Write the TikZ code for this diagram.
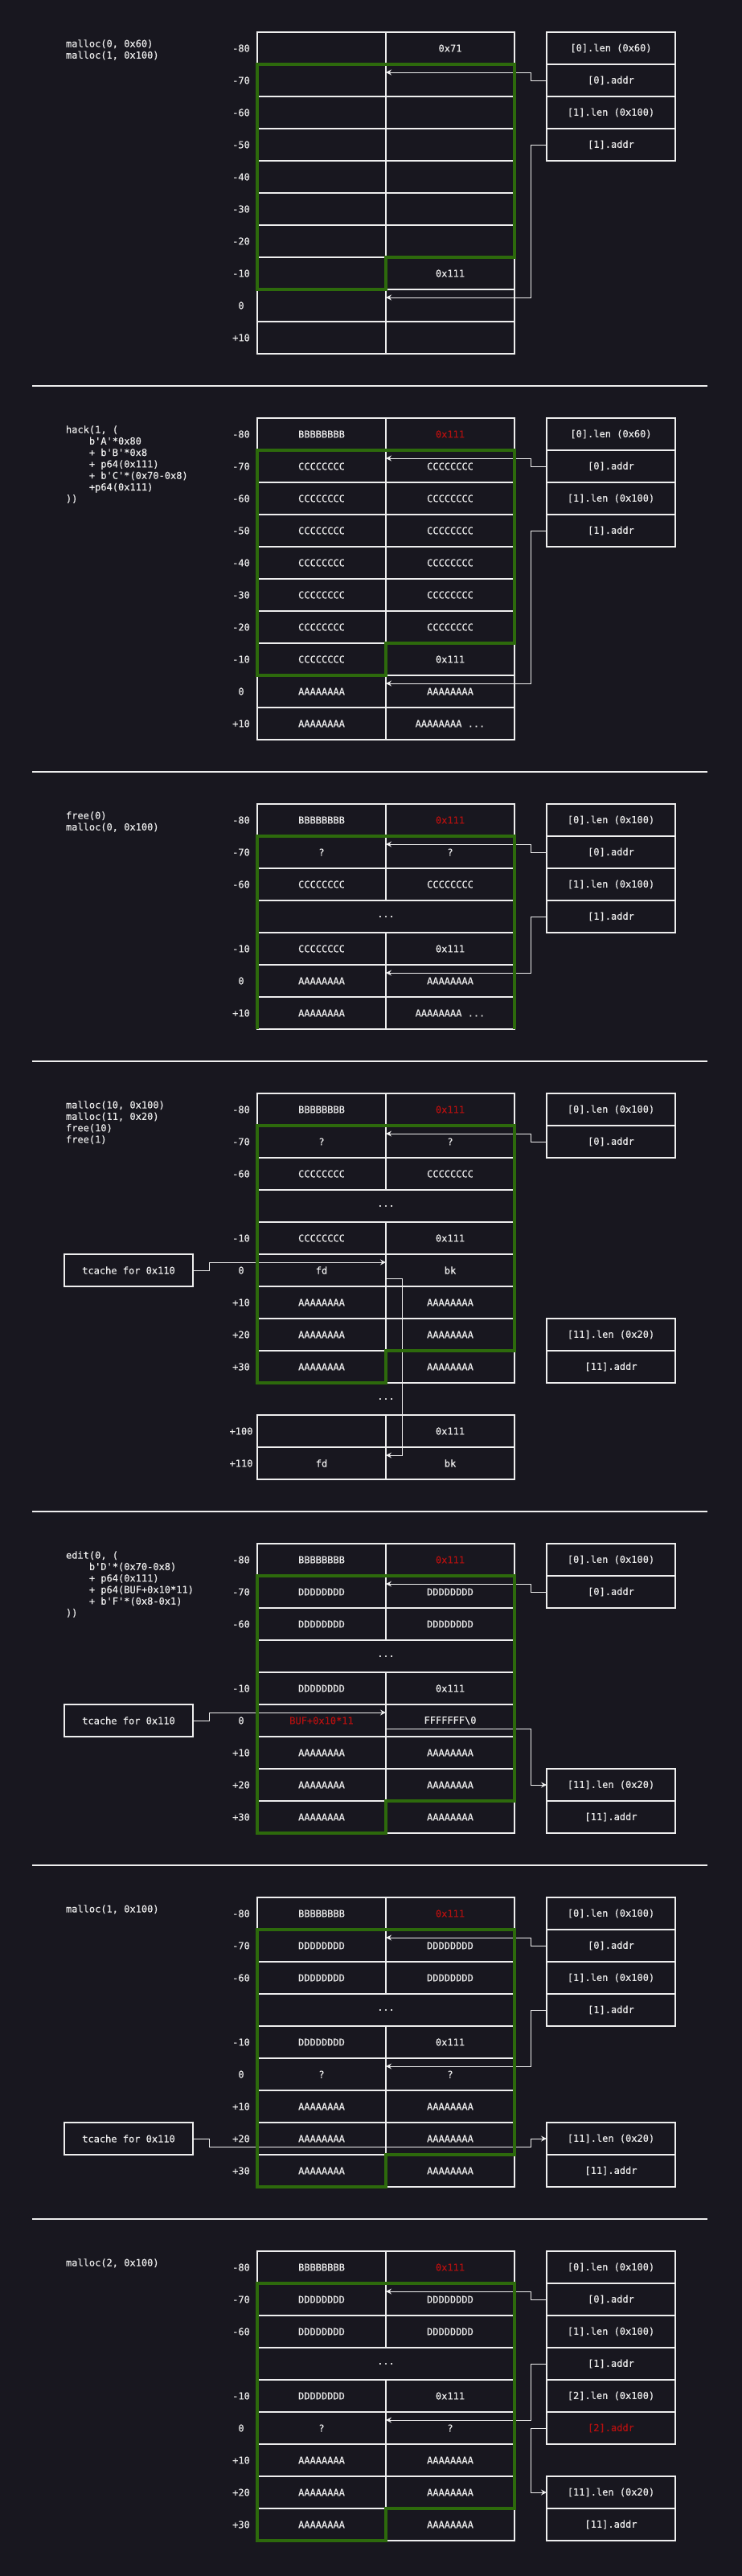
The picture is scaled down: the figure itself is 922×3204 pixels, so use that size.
\documentclass[tikz,border=0pt]{standalone}
\usepackage{fontspec}
\usepackage{tikz}
\usetikzlibrary{arrows.meta}
\newfontfamily\code{DejaVu Sans Mono}[FakeBold=0.4]
\definecolor{bg}{HTML}{18171F}
\definecolor{fg}{HTML}{ECECEC}
\definecolor{ink}{HTML}{EEEEEE}
\definecolor{grn}{HTML}{2D6A0C}
\definecolor{hot}{HTML}{B31010}

\begin{document}
\begin{tikzpicture}[x=1pt,y=1pt]
            \tikzstyle{every node}+=[inner sep=0pt, outer sep=0pt, text=fg, font=\code\fontsize{12}{14.3}\selectfont]
            \tikzstyle{cell}=[draw=ink, line width=1.1pt, minimum width=160, minimum height=40]
            \tikzstyle{wide}=[cell, minimum width=320]
            \tikzstyle{ptr}=[draw=ink, line width=0.9pt, -{Stealth[length=7pt,width=7pt,inset=2.5pt]}]
            \tikzstyle{chunk}=[draw=grn, line width=3.5pt]
            \tikzstyle{rule}=[draw=ink, line width=1.1pt]
            \tikzstyle{snip}=[anchor=north west, align=left]
            \useasboundingbox (0,0) rectangle (922,-3204);
            \fill [bg] (-4,4) rectangle (926,-3208);
            % malloc(0) / malloc(1)
            \node [snip] (p1code) at (82,-48.5) {\strut malloc(0, 0x60)\\malloc(1, 0x100)};
            \node (p1o0) at (300,-60) {-80};
            \node [cell] (p1l0) at (400,-60) {};
            \node [cell] (p1r0) at (560,-60) {0x71};
            \node (p1o1) at (300,-100) {-70};
            \node [cell] (p1l1) at (400,-100) {};
            \node [cell] (p1r1) at (560,-100) {};
            \node (p1o2) at (300,-140) {-60};
            \node [cell] (p1l2) at (400,-140) {};
            \node [cell] (p1r2) at (560,-140) {};
            \node (p1o3) at (300,-180) {-50};
            \node [cell] (p1l3) at (400,-180) {};
            \node [cell] (p1r3) at (560,-180) {};
            \node (p1o4) at (300,-220) {-40};
            \node [cell] (p1l4) at (400,-220) {};
            \node [cell] (p1r4) at (560,-220) {};
            \node (p1o5) at (300,-260) {-30};
            \node [cell] (p1l5) at (400,-260) {};
            \node [cell] (p1r5) at (560,-260) {};
            \node (p1o6) at (300,-300) {-20};
            \node [cell] (p1l6) at (400,-300) {};
            \node [cell] (p1r6) at (560,-300) {};
            \node (p1o7) at (300,-340) {-10};
            \node [cell] (p1l7) at (400,-340) {};
            \node [cell] (p1r7) at (560,-340) {0x111};
            \node (p1o8) at (300,-380) {0};
            \node [cell] (p1l8) at (400,-380) {};
            \node [cell] (p1r8) at (560,-380) {};
            \node (p1o9) at (300,-420) {+10};
            \node [cell] (p1l9) at (400,-420) {};
            \node [cell] (p1r9) at (560,-420) {};
            \node [cell] (p1s0) at (760,-60) {[0].len (0x60)};
            \node [cell] (p1s1) at (760,-100) {[0].addr};
            \node [cell] (p1s2) at (760,-140) {[1].len (0x100)};
            \node [cell] (p1s3) at (760,-180) {[1].addr};
            \draw [ptr] (p1s1.west) -- ++(-20,0) |- ([yshift=-10]p1l1.north east);
            \draw [ptr] (p1s3.west) -- ++(-20,0) |- ([yshift=-10]p1l8.north east);
            \draw [chunk] (p1l1.north west) -- (p1r1.north east) -- (p1r6.south east) -- (p1r7.north west) -- (p1l7.south east) -- (p1l7.south west) -- cycle;
            \draw [rule] (40,-480) -- (880,-480);
            % hack(1)
            \node [snip] (p2code) at (82,-528.5) {\strut hack(1, (\\\phantom{xxxx}b\textquotesingle A\textquotesingle*0x80\\\phantom{xxxx}+ b\textquotesingle B\textquotesingle*0x8\\\phantom{xxxx}+ p64(0x111)\\\phantom{xxxx}+ b\textquotesingle C\textquotesingle*(0x70-0x8)\\\phantom{xxxx}+p64(0x111)\\))};
            \node (p2o0) at (300,-540) {-80};
            \node [cell] (p2l0) at (400,-540) {BBBBBBBB};
            \node [cell, text=hot] (p2r0) at (560,-540) {0x111};
            \node (p2o1) at (300,-580) {-70};
            \node [cell] (p2l1) at (400,-580) {CCCCCCCC};
            \node [cell] (p2r1) at (560,-580) {CCCCCCCC};
            \node (p2o2) at (300,-620) {-60};
            \node [cell] (p2l2) at (400,-620) {CCCCCCCC};
            \node [cell] (p2r2) at (560,-620) {CCCCCCCC};
            \node (p2o3) at (300,-660) {-50};
            \node [cell] (p2l3) at (400,-660) {CCCCCCCC};
            \node [cell] (p2r3) at (560,-660) {CCCCCCCC};
            \node (p2o4) at (300,-700) {-40};
            \node [cell] (p2l4) at (400,-700) {CCCCCCCC};
            \node [cell] (p2r4) at (560,-700) {CCCCCCCC};
            \node (p2o5) at (300,-740) {-30};
            \node [cell] (p2l5) at (400,-740) {CCCCCCCC};
            \node [cell] (p2r5) at (560,-740) {CCCCCCCC};
            \node (p2o6) at (300,-780) {-20};
            \node [cell] (p2l6) at (400,-780) {CCCCCCCC};
            \node [cell] (p2r6) at (560,-780) {CCCCCCCC};
            \node (p2o7) at (300,-820) {-10};
            \node [cell] (p2l7) at (400,-820) {CCCCCCCC};
            \node [cell] (p2r7) at (560,-820) {0x111};
            \node (p2o8) at (300,-860) {0};
            \node [cell] (p2l8) at (400,-860) {AAAAAAAA};
            \node [cell] (p2r8) at (560,-860) {AAAAAAAA};
            \node (p2o9) at (300,-900) {+10};
            \node [cell] (p2l9) at (400,-900) {AAAAAAAA};
            \node [cell] (p2r9) at (560,-900) {AAAAAAAA ...};
            \node [cell] (p2s0) at (760,-540) {[0].len (0x60)};
            \node [cell] (p2s1) at (760,-580) {[0].addr};
            \node [cell] (p2s2) at (760,-620) {[1].len (0x100)};
            \node [cell] (p2s3) at (760,-660) {[1].addr};
            \draw [ptr] (p2s1.west) -- ++(-20,0) |- ([yshift=-10]p2l1.north east);
            \draw [ptr] (p2s3.west) -- ++(-20,0) |- ([yshift=-10]p2l8.north east);
            \draw [chunk] (p2l1.north west) -- (p2r1.north east) -- (p2r6.south east) -- (p2r7.north west) -- (p2l7.south east) -- (p2l7.south west) -- cycle;
            \draw [rule] (40,-960) -- (880,-960);
            % free(0) / malloc(0)
            \node [snip] (p3code) at (82,-1008.5) {\strut free(0)\\malloc(0, 0x100)};
            \node (p3o0) at (300,-1020) {-80};
            \node [cell] (p3l0) at (400,-1020) {BBBBBBBB};
            \node [cell, text=hot] (p3r0) at (560,-1020) {0x111};
            \node (p3o1) at (300,-1060) {-70};
            \node [cell] (p3l1) at (400,-1060) {?};
            \node [cell] (p3r1) at (560,-1060) {?};
            \node (p3o2) at (300,-1100) {-60};
            \node [cell] (p3l2) at (400,-1100) {CCCCCCCC};
            \node [cell] (p3r2) at (560,-1100) {CCCCCCCC};
            \node [wide] (p3m) at (480,-1140) {...};
            \node (p3o4) at (300,-1180) {-10};
            \node [cell] (p3l4) at (400,-1180) {CCCCCCCC};
            \node [cell] (p3r4) at (560,-1180) {0x111};
            \node (p3o5) at (300,-1220) {0};
            \node [cell] (p3l5) at (400,-1220) {AAAAAAAA};
            \node [cell] (p3r5) at (560,-1220) {AAAAAAAA};
            \node (p3o6) at (300,-1260) {+10};
            \node [cell] (p3l6) at (400,-1260) {AAAAAAAA};
            \node [cell] (p3r6) at (560,-1260) {AAAAAAAA ...};
            \node [cell] (p3s0) at (760,-1020) {[0].len (0x100)};
            \node [cell] (p3s1) at (760,-1060) {[0].addr};
            \node [cell] (p3s2) at (760,-1100) {[1].len (0x100)};
            \node [cell] (p3s3) at (760,-1140) {[1].addr};
            \draw [ptr] (p3s1.west) -- ++(-20,0) |- ([yshift=-10]p3l1.north east);
            \draw [ptr] (p3s3.west) -- ++(-20,0) |- ([yshift=-10]p3l5.north east);
            \draw [chunk] (p3l6.south west) -- (p3l1.north west) -- (p3r1.north east) -- (p3r6.south east);
            \draw [rule] (40,-1320) -- (880,-1320);
            % malloc(10) / malloc(11) / free(10) / free(1)
            \node [snip] (p4code) at (82,-1368.5) {\strut malloc(10, 0x100)\\malloc(11, 0x20)\\free(10)\\free(1)};
            \node (p4o0) at (300,-1380) {-80};
            \node [cell] (p4l0) at (400,-1380) {BBBBBBBB};
            \node [cell, text=hot] (p4r0) at (560,-1380) {0x111};
            \node (p4o1) at (300,-1420) {-70};
            \node [cell] (p4l1) at (400,-1420) {?};
            \node [cell] (p4r1) at (560,-1420) {?};
            \node (p4o2) at (300,-1460) {-60};
            \node [cell] (p4l2) at (400,-1460) {CCCCCCCC};
            \node [cell] (p4r2) at (560,-1460) {CCCCCCCC};
            \node [wide] (p4m) at (480,-1500) {...};
            \node (p4o4) at (300,-1540) {-10};
            \node [cell] (p4l4) at (400,-1540) {CCCCCCCC};
            \node [cell] (p4r4) at (560,-1540) {0x111};
            \node (p4o5) at (300,-1580) {0};
            \node [cell] (p4l5) at (400,-1580) {fd};
            \node [cell] (p4r5) at (560,-1580) {bk};
            \node (p4o6) at (300,-1620) {+10};
            \node [cell] (p4l6) at (400,-1620) {AAAAAAAA};
            \node [cell] (p4r6) at (560,-1620) {AAAAAAAA};
            \node (p4o7) at (300,-1660) {+20};
            \node [cell] (p4l7) at (400,-1660) {AAAAAAAA};
            \node [cell] (p4r7) at (560,-1660) {AAAAAAAA};
            \node (p4o8) at (300,-1700) {+30};
            \node [cell] (p4l8) at (400,-1700) {AAAAAAAA};
            \node [cell] (p4r8) at (560,-1700) {AAAAAAAA};
            \node (p4g) at (480,-1740) {...};
            \node (p4o9) at (300,-1780) {+100};
            \node [cell] (p4l9) at (400,-1780) {};
            \node [cell] (p4r9) at (560,-1780) {0x111};
            \node (p4o10) at (300,-1820) {+110};
            \node [cell] (p4l10) at (400,-1820) {fd};
            \node [cell] (p4r10) at (560,-1820) {bk};
            \node [cell] (p4tc) at (160,-1580) {tcache for 0x110};
            \node [cell] (p4s0) at (760,-1380) {[0].len (0x100)};
            \node [cell] (p4s1) at (760,-1420) {[0].addr};
            \node [cell] (p4s2) at (760,-1660) {[11].len (0x20)};
            \node [cell] (p4s3) at (760,-1700) {[11].addr};
            \draw [ptr] (p4s1.west) -- ++(-20,0) |- ([yshift=-10]p4l1.north east);
            \draw [ptr] (p4tc.east) -- ++(20,0) |- ([yshift=10]p4l5.east);
            \draw [ptr] ([yshift=-10]p4l5.east) -- ++(20,0) |- ([yshift=-10]p4l10.north east);
            \draw [chunk] (p4l1.north west) -- (p4r1.north east) -- (p4r7.south east) -- (p4r8.north west) -- (p4l8.south east) -- (p4l8.south west) -- cycle;
            \draw [rule] (40,-1880) -- (880,-1880);
            % edit(0)
            \node [snip] (p5code) at (82,-1928.5) {\strut edit(0, (\\\phantom{xxxx}b\textquotesingle D\textquotesingle*(0x70-0x8)\\\phantom{xxxx}+ p64(0x111)\\\phantom{xxxx}+ p64(BUF+0x10*11)\\\phantom{xxxx}+ b\textquotesingle F\textquotesingle*(0x8-0x1)\\))};
            \node (p5o0) at (300,-1940) {-80};
            \node [cell] (p5l0) at (400,-1940) {BBBBBBBB};
            \node [cell, text=hot] (p5r0) at (560,-1940) {0x111};
            \node (p5o1) at (300,-1980) {-70};
            \node [cell] (p5l1) at (400,-1980) {DDDDDDDD};
            \node [cell] (p5r1) at (560,-1980) {DDDDDDDD};
            \node (p5o2) at (300,-2020) {-60};
            \node [cell] (p5l2) at (400,-2020) {DDDDDDDD};
            \node [cell] (p5r2) at (560,-2020) {DDDDDDDD};
            \node [wide] (p5m) at (480,-2060) {...};
            \node (p5o4) at (300,-2100) {-10};
            \node [cell] (p5l4) at (400,-2100) {DDDDDDDD};
            \node [cell] (p5r4) at (560,-2100) {0x111};
            \node (p5o5) at (300,-2140) {0};
            \node [cell, text=hot] (p5l5) at (400,-2140) {BUF+0x10*11};
            \node [cell] (p5r5) at (560,-2140) {FFFFFFF\textbackslash 0};
            \node (p5o6) at (300,-2180) {+10};
            \node [cell] (p5l6) at (400,-2180) {AAAAAAAA};
            \node [cell] (p5r6) at (560,-2180) {AAAAAAAA};
            \node (p5o7) at (300,-2220) {+20};
            \node [cell] (p5l7) at (400,-2220) {AAAAAAAA};
            \node [cell] (p5r7) at (560,-2220) {AAAAAAAA};
            \node (p5o8) at (300,-2260) {+30};
            \node [cell] (p5l8) at (400,-2260) {AAAAAAAA};
            \node [cell] (p5r8) at (560,-2260) {AAAAAAAA};
            \node [cell] (p5tc) at (160,-2140) {tcache for 0x110};
            \node [cell] (p5s0) at (760,-1940) {[0].len (0x100)};
            \node [cell] (p5s1) at (760,-1980) {[0].addr};
            \node [cell] (p5s2) at (760,-2220) {[11].len (0x20)};
            \node [cell] (p5s3) at (760,-2260) {[11].addr};
            \draw [ptr] (p5s1.west) -- ++(-20,0) |- ([yshift=-10]p5l1.north east);
            \draw [ptr] (p5tc.east) -- ++(20,0) |- ([yshift=10]p5l5.east);
            \draw [ptr] ([yshift=-10]p5l5.east) -| ([xshift=-20]p5s2.west) -- (p5s2.west);
            \draw [chunk] (p5l1.north west) -- (p5r1.north east) -- (p5r7.south east) -- (p5r8.north west) -- (p5l8.south east) -- (p5l8.south west) -- cycle;
            \draw [rule] (40,-2320) -- (880,-2320);
            % malloc(1)
            \node [snip] (p6code) at (82,-2368.5) {\strut malloc(1, 0x100)};
            \node (p6o0) at (300,-2380) {-80};
            \node [cell] (p6l0) at (400,-2380) {BBBBBBBB};
            \node [cell, text=hot] (p6r0) at (560,-2380) {0x111};
            \node (p6o1) at (300,-2420) {-70};
            \node [cell] (p6l1) at (400,-2420) {DDDDDDDD};
            \node [cell] (p6r1) at (560,-2420) {DDDDDDDD};
            \node (p6o2) at (300,-2460) {-60};
            \node [cell] (p6l2) at (400,-2460) {DDDDDDDD};
            \node [cell] (p6r2) at (560,-2460) {DDDDDDDD};
            \node [wide] (p6m) at (480,-2500) {...};
            \node (p6o4) at (300,-2540) {-10};
            \node [cell] (p6l4) at (400,-2540) {DDDDDDDD};
            \node [cell] (p6r4) at (560,-2540) {0x111};
            \node (p6o5) at (300,-2580) {0};
            \node [cell] (p6l5) at (400,-2580) {?};
            \node [cell] (p6r5) at (560,-2580) {?};
            \node (p6o6) at (300,-2620) {+10};
            \node [cell] (p6l6) at (400,-2620) {AAAAAAAA};
            \node [cell] (p6r6) at (560,-2620) {AAAAAAAA};
            \node (p6o7) at (300,-2660) {+20};
            \node [cell] (p6l7) at (400,-2660) {AAAAAAAA};
            \node [cell] (p6r7) at (560,-2660) {AAAAAAAA};
            \node (p6o8) at (300,-2700) {+30};
            \node [cell] (p6l8) at (400,-2700) {AAAAAAAA};
            \node [cell] (p6r8) at (560,-2700) {AAAAAAAA};
            \node [cell] (p6tc) at (160,-2660) {tcache for 0x110};
            \node [cell] (p6s0) at (760,-2380) {[0].len (0x100)};
            \node [cell] (p6s1) at (760,-2420) {[0].addr};
            \node [cell] (p6s2) at (760,-2460) {[1].len (0x100)};
            \node [cell] (p6s3) at (760,-2500) {[1].addr};
            \node [cell] (p6s4) at (760,-2660) {[11].len (0x20)};
            \node [cell] (p6s5) at (760,-2700) {[11].addr};
            \draw [ptr] (p6s1.west) -- ++(-20,0) |- ([yshift=-10]p6l1.north east);
            \draw [ptr] (p6s3.west) -- ++(-20,0) |- ([yshift=-10]p6l5.north east);
            \draw [ptr] (p6tc.east) -- ++(20,0) |- ([xshift=-20,yshift=-10]p6s4.west) |- (p6s4.west);
            \draw [chunk] (p6l1.north west) -- (p6r1.north east) -- (p6r7.south east) -- (p6r8.north west) -- (p6l8.south east) -- (p6l8.south west) -- cycle;
            \draw [rule] (40,-2760) -- (880,-2760);
            % malloc(2)
            \node [snip] (p7code) at (82,-2808.5) {\strut malloc(2, 0x100)};
            \node (p7o0) at (300,-2820) {-80};
            \node [cell] (p7l0) at (400,-2820) {BBBBBBBB};
            \node [cell, text=hot] (p7r0) at (560,-2820) {0x111};
            \node (p7o1) at (300,-2860) {-70};
            \node [cell] (p7l1) at (400,-2860) {DDDDDDDD};
            \node [cell] (p7r1) at (560,-2860) {DDDDDDDD};
            \node (p7o2) at (300,-2900) {-60};
            \node [cell] (p7l2) at (400,-2900) {DDDDDDDD};
            \node [cell] (p7r2) at (560,-2900) {DDDDDDDD};
            \node [wide] (p7m) at (480,-2940) {...};
            \node (p7o4) at (300,-2980) {-10};
            \node [cell] (p7l4) at (400,-2980) {DDDDDDDD};
            \node [cell] (p7r4) at (560,-2980) {0x111};
            \node (p7o5) at (300,-3020) {0};
            \node [cell] (p7l5) at (400,-3020) {?};
            \node [cell] (p7r5) at (560,-3020) {?};
            \node (p7o6) at (300,-3060) {+10};
            \node [cell] (p7l6) at (400,-3060) {AAAAAAAA};
            \node [cell] (p7r6) at (560,-3060) {AAAAAAAA};
            \node (p7o7) at (300,-3100) {+20};
            \node [cell] (p7l7) at (400,-3100) {AAAAAAAA};
            \node [cell] (p7r7) at (560,-3100) {AAAAAAAA};
            \node (p7o8) at (300,-3140) {+30};
            \node [cell] (p7l8) at (400,-3140) {AAAAAAAA};
            \node [cell] (p7r8) at (560,-3140) {AAAAAAAA};
            \node [cell] (p7s0) at (760,-2820) {[0].len (0x100)};
            \node [cell] (p7s1) at (760,-2860) {[0].addr};
            \node [cell] (p7s2) at (760,-2900) {[1].len (0x100)};
            \node [cell] (p7s3) at (760,-2940) {[1].addr};
            \node [cell] (p7s4) at (760,-2980) {[2].len (0x100)};
            \node [cell, text=hot] (p7s5) at (760,-3020) {[2].addr};
            \node [cell] (p7s6) at (760,-3100) {[11].len (0x20)};
            \node [cell] (p7s7) at (760,-3140) {[11].addr};
            \draw [ptr] (p7s1.west) -- ++(-20,0) |- ([yshift=-10]p7l1.north east);
            \draw [ptr] (p7s3.west) -- ++(-20,0) |- ([yshift=-10]p7l5.north east);
            \draw [ptr] (p7s5.west) -- ++(-20,0) |- (p7s6.west);
            \draw [chunk] (p7l1.north west) -- (p7r1.north east) -- (p7r7.south east) -- (p7r8.north west) -- (p7l8.south east) -- (p7l8.south west) -- cycle;
            \end{tikzpicture}
\end{document}
